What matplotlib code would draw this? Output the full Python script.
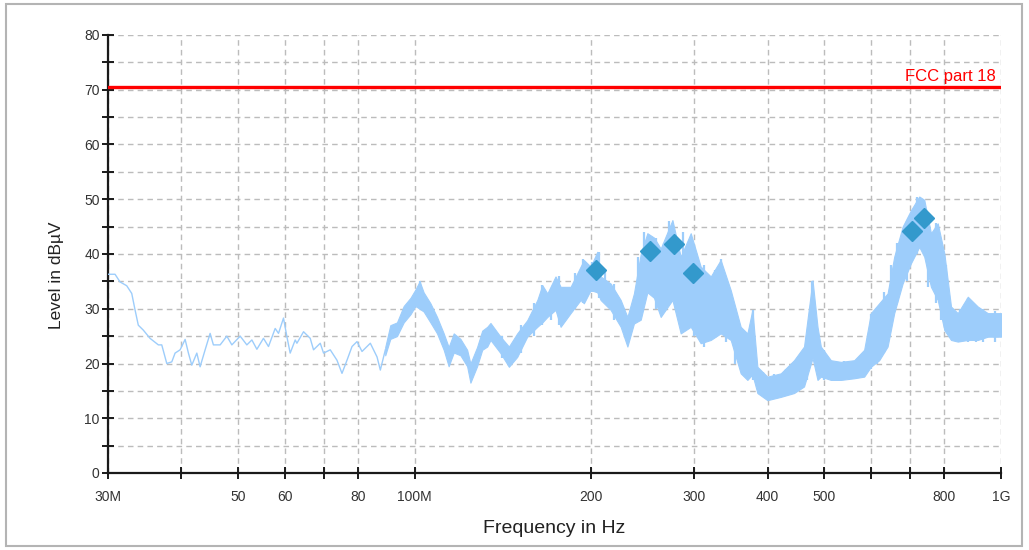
import matplotlib
matplotlib.use("Agg")
import matplotlib.pyplot as plt
from matplotlib.patches import Rectangle
from matplotlib.ticker import FixedLocator, FixedFormatter, MultipleLocator

plt.rcParams['font.family'] = ['Liberation Sans', 'DejaVu Sans']

# ---- data (frequencies in MHz, levels in dBuV) ----
# single-line part of the scan (30 - 90 MHz)
line_freq = [30.0, 30.84, 31.45, 32.29, 32.93, 33.36, 33.79, 34.46, 35.38, 36.56,
             37.05, 37.79, 38.54, 39.04, 39.82, 40.61, 41.14, 41.69, 42.52, 43.07,
             43.93, 44.80, 45.38, 46.60, 47.84, 48.79, 50.41, 51.75, 52.78, 53.83,
             55.24, 56.34, 57.84, 58.60, 59.76, 60.56, 61.35, 62.57, 62.99, 64.65,
             66.37, 67.24, 69.04, 69.94, 71.80, 73.72, 75.19, 76.68, 78.21, 79.76,
             81.34, 84.04, 86.28, 87.41, 89.14]
line_level = [36.3, 36.3, 34.9, 34.2, 32.8, 29.8, 27.0, 26.1, 24.6, 23.4,
              23.4, 20.0, 20.3, 21.9, 22.5, 24.4, 21.9, 19.7, 21.9, 19.4,
              22.5, 25.5, 23.4, 23.4, 25.0, 23.4, 25.0, 23.4, 24.3, 22.6,
              24.6, 23.1, 26.4, 25.5, 28.3, 24.9, 21.9, 24.3, 23.7, 25.8,
              24.6, 22.5, 23.7, 21.9, 22.5, 20.6, 18.2, 20.6, 23.1, 24.0,
              22.2, 23.7, 21.2, 18.8, 22.5]

# band part of the scan (envelope of the noisy trace)
band_freq = [89.1, 90.9, 93.3, 95.8, 98.4, 100.3, 102.0, 103.6, 106.4, 109.2,
             112.1, 114.3, 116.6, 119.7, 122.9, 124.5, 127.8, 130.4, 133.0, 134.7,
             140.1, 144.8, 149.6, 155.6, 161.9, 165.1, 168.4, 173.9, 177.4, 184.5,
             191.9, 194.4, 199.6, 204.9, 207.6, 215.9, 224.6, 230.6, 236.6, 243.0,
             249.4, 256.0, 262.8, 275.2, 284.3, 295.7, 307.5, 319.9, 332.6, 346.0,
             359.8, 369.4, 376.7, 384.2, 399.6, 421.1, 443.6, 461.4, 477.1, 486.5,
             492.9, 512.7, 533.2, 561.8, 584.3, 599.9, 619.8, 640.6, 657.5, 679.5,
             702.1, 725.4, 739.8, 759.5, 780.0, 800.5, 821.8, 843.8, 877.7, 912.9,
             949.5, 1000.0]
band_low = [21.5, 24.5, 25.0, 27.5, 29.0, 30.5, 30.0, 29.5, 27.5, 25.5,
            22.5, 19.5, 22.0, 21.5, 19.5, 16.5, 19.5, 22.5, 23.1, 24.3,
            21.9, 19.4, 21.2, 24.9, 26.7, 27.5, 28.5, 29.8, 26.7, 29.2,
            31.6, 31.0, 33.4, 33.0, 31.6, 29.8, 26.7, 23.1, 27.3, 28.0,
            33.0, 32.0, 28.5, 31.6, 25.5, 26.7, 23.7, 24.3, 25.5, 24.3,
            18.2, 17.0, 18.0, 14.6, 13.3, 13.9, 14.6, 15.8, 21.0, 17.0,
            17.6, 17.0, 17.0, 17.3, 17.6, 19.4, 20.6, 23.1, 29.2, 34.6,
            38.3, 41.3, 39.5, 34.0, 31.6, 26.1, 24.3, 24.0, 24.3, 24.3,
            24.9, 24.9]
band_high = [23.0, 27.0, 27.5, 30.5, 32.0, 33.5, 35.0, 33.0, 31.0, 28.5,
             25.5, 23.0, 25.5, 24.5, 22.5, 20.0, 23.0, 26.0, 26.7, 27.4,
             24.9, 23.1, 25.5, 27.9, 31.6, 34.3, 32.8, 35.9, 34.0, 34.0,
             37.7, 38.9, 37.7, 40.4, 35.9, 34.6, 31.6, 28.5, 32.8, 40.0,
             43.8, 43.0, 41.0, 46.2, 39.5, 43.8, 37.7, 35.9, 38.9, 33.4,
             26.7, 25.5, 29.8, 19.4, 17.6, 18.2, 20.6, 23.1, 35.2, 26.7,
             23.1, 20.6, 20.3, 20.6, 22.5, 29.2, 31.0, 32.8, 39.5, 45.0,
             48.0, 50.5, 49.9, 43.8, 45.6, 40.1, 30.4, 29.2, 32.2, 30.4,
             29.2, 29.2]

# individual spikes of the noisy trace
spike_freq = [102, 141, 152, 160, 165, 171, 176, 180, 188, 194,
              201, 206, 211, 219, 240, 246, 258, 266, 272, 279,
              287, 300, 312, 325, 333, 340, 352, 377, 392, 410,
              430, 450, 466, 477, 500, 540, 600, 615, 632, 650,
              665, 690, 718, 750, 775, 790, 806, 850, 880, 905,
              930, 975]
spike_low = [31, 21, 22, 25, 27, 28, 27, 28, 30, 31,
             33, 32, 31, 28, 28, 32, 30, 31, 35, 30,
             27, 25, 23, 25, 26, 24, 20, 17, 14, 13.5,
             14, 15, 17, 22, 17, 17, 19, 20, 22, 28,
             31, 35, 40, 34, 31, 28, 26, 24, 24, 24,
             24, 24]
spike_high = [35, 25, 27, 31, 34.3, 33, 36, 34, 36.5, 39,
              38.5, 40.4, 37, 34.5, 39.5, 44, 43, 42, 46, 41,
              44, 40, 38, 37, 39, 35, 28, 29.8, 18.5, 18,
              19, 21, 25, 35, 22.5, 20.5, 29, 30, 33, 38,
              42, 46, 50.5, 45, 45.6, 40, 38, 30, 32, 30.5,
              30, 29.5]

# peak markers
peak_freq = [204.0, 252.5, 276.5, 298.0, 705.0, 739.0]
peak_level = [37.0, 40.5, 41.8, 36.5, 44.2, 46.6]

# limit line
limit_level = 70.5
limit_label = "FCC part 18"

# axis ticks
xtick_freq = [30, 40, 50, 60, 70, 80, 100, 200, 300, 400, 500, 600, 700, 800, 1000]
xtick_labels = ["30M", "", "50", "60", "", "80", "100M", "200", "300", "400", "500",
                "", "", "800", "1G"]

# ---- drawing ----
fig = plt.figure(figsize=(10.29, 5.5), dpi=100)
fig.patch.set_facecolor("white")
fig.patches.append(Rectangle((6 / 1029, 4 / 550), 1016 / 1029, 542 / 550,
                             transform=fig.transFigure, fill=False,
                             edgecolor="#b4b4b4", linewidth=1.5))

ax = fig.add_axes([108 / 1029, 1 - 473 / 550, 893 / 1029, 438 / 550])
ax.set_xscale("log")
ax.set_xlim(30, 1000)
ax.set_ylim(0, 80)

trace_color = "#9dcdfb"
ax.plot(line_freq, line_level, color=trace_color, lw=1.0, zorder=3)
ax.fill_between(band_freq, band_low, band_high, color=trace_color, lw=0.8,
                edgecolor=trace_color, zorder=3)
ax.vlines(spike_freq, spike_low, spike_high, color=trace_color, lw=1.6, zorder=3)

ax.axhline(limit_level, color="#ff0000", lw=2.4, zorder=4)
ax.text(981, limit_level + 0.6, limit_label, color="#ff0000", fontsize=12,
        ha="right", va="bottom", zorder=5)

ax.plot(peak_freq, peak_level, linestyle="none", marker="D", markersize=10.5,
        color="#3399cc", markeredgecolor="#3399cc", zorder=6)

ax.xaxis.set_major_locator(FixedLocator(xtick_freq))
ax.xaxis.set_major_formatter(FixedFormatter(xtick_labels))
ax.xaxis.set_minor_locator(FixedLocator([]))
ax.yaxis.set_major_locator(MultipleLocator(10))
ax.yaxis.set_minor_locator(MultipleLocator(5))

ax.grid(True, which="both", axis="both", color="#bcbcbc", linestyle=(0, (4, 3)),
        linewidth=1.0, zorder=1)
ax.set_axisbelow(True)

for s in ["top", "right"]:
    ax.spines[s].set_visible(False)
for s in ["left", "bottom"]:
    ax.spines[s].set_linewidth(1.6)
    ax.spines[s].set_color("#1a1a1a")

ax.tick_params(axis="both", which="both", direction="inout", length=8, width=1.4,
               color="#1a1a1a", labelsize=10, labelcolor="#333333")
ax.tick_params(axis="y", pad=2)
ax.tick_params(axis="x", pad=8)

ax.set_xlabel("Frequency in Hz", fontsize=14, color="#222222")
ax.xaxis.set_label_coords(0.5, -0.108)
ax.set_ylabel("Level in dBµV", fontsize=12.5, color="#222222")
ax.yaxis.set_label_coords(-0.049, 0.452)

fig.savefig("out.png", dpi=100)
